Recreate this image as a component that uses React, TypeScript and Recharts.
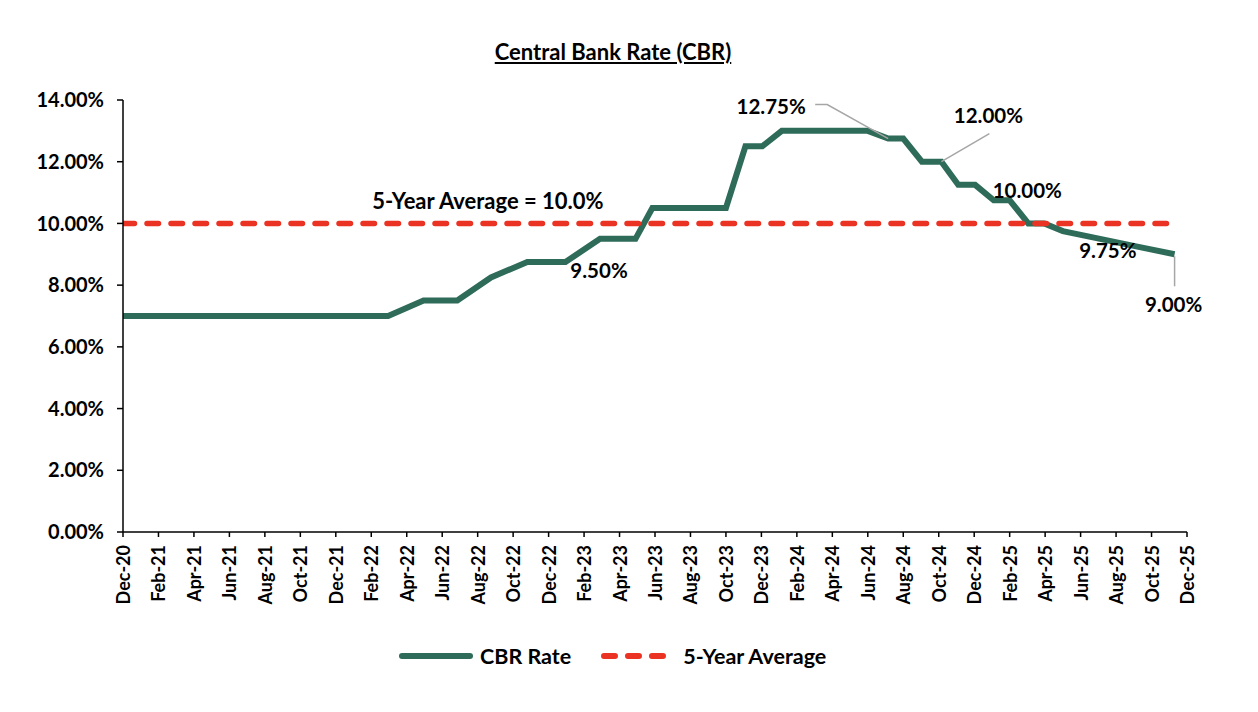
import React from 'react';
import { LineChart, Line, XAxis, YAxis, Legend } from 'recharts';

const tickLabels = [
  'Dec-20', 'Feb-21', 'Apr-21', 'Jun-21', 'Aug-21', 'Oct-21', 'Dec-21', 'Feb-22', 'Apr-22', 'Jun-22',
  'Aug-22', 'Oct-22', 'Dec-22', 'Feb-23', 'Apr-23', 'Jun-23', 'Aug-23', 'Oct-23', 'Dec-23', 'Feb-24',
  'Apr-24', 'Jun-24', 'Aug-24', 'Oct-24', 'Dec-24', 'Feb-25', 'Apr-25', 'Jun-25', 'Aug-25', 'Oct-25', 'Dec-25',
];

// months elapsed since Dec-20
const monthPos = [
  0, 14.95, 16.95, 18.85, 20.75, 22.8, 24.95, 26.9, 28.9, 29.85, 34.0, 35.1, 36.05, 37.15,
  42.0, 43.15, 44.0, 45.05, 46.15, 47.1, 48.05, 49.1, 50.0, 51.05, 51.95, 53.0, 55.1, 57.2, 59.3,
];
const cbrRate = [
  7.0, 7.0, 7.5, 7.5, 8.25, 8.75, 8.75, 9.5, 9.5, 10.5, 10.5, 12.5, 12.5, 13.0,
  13.0, 12.75, 12.75, 12.0, 12.0, 11.25, 11.25, 10.75, 10.75, 10.0, 10.0, 9.75, 9.5, 9.25, 9.0,
];
const averageRate = 10.0;
const yTicks = [0, 2, 4, 6, 8, 10, 12, 14];
const labelledMonths = [26.9, 43.15, 46.15, 51.05, 53.0, 59.3];
const averageLabelMonth = 20.75;

const data = monthPos.map((m, i) => ({ m, cbr: cbrRate[i], avg: averageRate }));
const xTicks = tickLabels.map((_, i) => i * 2);

const FONT = "Lato, 'Open Sans', sans-serif";
const GREEN = '#2E6B59';
const RED = '#EA3323';
const GREY = '#A6A6A6';

// label placement (pixels relative to the point)
const labelLayout: Record<string, { dx: number; dy: number; leader?: number[][] }> = {
  '26.9': { dx: -1, dy: 31 },
  '43.15': { dx: -117, dy: -33, leader: [[0, 0], [-61, -34], [-73, -34]] },
  '46.15': { dx: 47, dy: -47, leader: [[0, 0], [48, -28]] },
  '51.05': { dx: -1, dy: -33 },
  '53': { dx: 45, dy: 19 },
  '59.3': { dx: -1, dy: 50, leader: [[0, 2], [0, 32]] },
};

const CbrLabel = (props: any) => {
  const { x, y, index } = props;
  const m = monthPos[index];
  if (!labelledMonths.includes(m)) return <g key={`l${index}`} />;
  const lay = labelLayout[String(m)];
  return (
    <g key={`l${index}`}>
      {lay.leader && (
        <polyline
          points={lay.leader.map(([a, b]) => `${x + a},${y + b}`).join(' ')}
          fill="none"
          stroke={GREY}
          strokeWidth={1.5}
        />
      )}
      <text
        x={x + lay.dx}
        y={y + lay.dy}
        textAnchor="middle"
        dominantBaseline="central"
        fontFamily={FONT}
        fontWeight={700}
        fontSize={20.5}
        fill="#000"
      >
        {cbrRate[index].toFixed(2)}%
      </text>
    </g>
  );
};

const AvgLabel = (props: any) => {
  const { x, y, index } = props;
  if (monthPos[index] !== averageLabelMonth) return <g key={`a${index}`} />;
  return (
    <text
      key={`a${index}`}
      x={x - 3}
      y={y - 23}
      textAnchor="middle"
      dominantBaseline="central"
      fontFamily={FONT}
      fontWeight={700}
      fontSize={22}
      fill="#000"
    >
      {`5-Year Average = ${averageRate.toFixed(1)}%`}
    </text>
  );
};

const XTick = (props: any) => {
  const { x, y, payload } = props;
  return (
    <text
      x={x}
      y={y}
      transform={`rotate(-90, ${x}, ${y})`}
      textAnchor="end"
      dominantBaseline="central"
      fontFamily={FONT}
      fontWeight={700}
      fontSize={18}
      fill="#000"
    >
      {tickLabels[Math.round(payload.value / 2)]}
    </text>
  );
};

const LegendContent = () => (
  <div
    style={{
      height: 30,
      width: 1215,
      display: 'flex',
      alignItems: 'center',
      paddingLeft: 356,
      boxSizing: 'border-box',
      fontFamily: FONT,
      fontWeight: 700,
      fontSize: 21.5,
      color: '#000',
    }}
  >
    <svg width={74} height={10}>
      <line x1={3} y1={5} x2={71} y2={5} stroke={GREEN} strokeWidth={6} strokeLinecap="round" />
    </svg>
    <span style={{ marginLeft: 7 }}>CBR Rate</span>
    <svg width={70} height={10} style={{ marginLeft: 30 }}>
      <line x1={3} y1={5} x2={67} y2={5} stroke={RED} strokeWidth={6} strokeLinecap="round" strokeDasharray="11 13" />
    </svg>
    <span style={{ marginLeft: 12 }}>5-Year Average</span>
  </div>
);

export default function App() {
  return (
    <div style={{ position: 'absolute', left: 0, top: 0, width: 1258, height: 712, background: '#fff' }}>
      <div
        style={{
          position: 'absolute',
          top: 38,
          left: 0,
          width: 1226,
          textAlign: 'center',
          fontFamily: FONT,
          fontWeight: 700,
          fontSize: 22,
          textDecoration: 'underline',
          color: '#000',
        }}
      >
        Central Bank Rate (CBR)
      </div>
      <LineChart width={1258} height={712} data={data} margin={{ top: 100, right: 71, left: 43, bottom: 41 }}>
        <XAxis
          type="number"
          dataKey="m"
          domain={[0, 60]}
          ticks={xTicks}
          interval={0}
          tick={<XTick />}
          tickSize={5}
          tickMargin={8}
          height={109}
          stroke="#000"
          strokeWidth={1.5}
          allowDataOverflow
        />
        <YAxis
          type="number"
          domain={[0, 14]}
          ticks={yTicks}
          interval={0}
          width={80}
          tickSize={6}
          tickMargin={13}
          tickFormatter={(v: number) => `${v.toFixed(2)}%`}
          tick={{ fill: '#000', fontSize: 20, fontWeight: 700, fontFamily: FONT }}
          stroke="#000"
          strokeWidth={1.5}
        />
        <Legend verticalAlign="bottom" content={<LegendContent />} />
        <Line
          type="linear"
          dataKey="cbr"
          name="CBR Rate"
          stroke={GREEN}
          strokeWidth={6}
          dot={false}
          activeDot={false}
          isAnimationActive={false}
          label={CbrLabel}
        />
        <Line
          type="linear"
          dataKey="avg"
          name="5-Year Average"
          stroke={RED}
          strokeWidth={5.5}
          strokeDasharray="11.5 12.5"
          strokeLinecap="round"
          dot={false}
          activeDot={false}
          isAnimationActive={false}
          label={AvgLabel}
        />
      </LineChart>
    </div>
  );
}
